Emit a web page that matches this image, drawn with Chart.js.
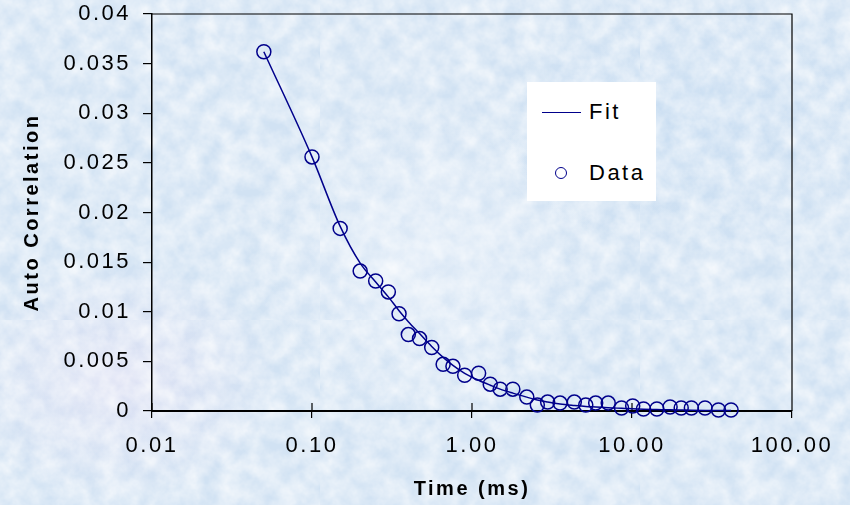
<!DOCTYPE html>
<html lang="en">
<head>
<meta charset="UTF-8">
<title>Auto Correlation vs Time</title>
<style>
  html, body { margin: 0; padding: 0; }
  body {
    width: 850px;
    height: 505px;
    overflow: hidden;
    position: relative;
    font-family: "Liberation Sans", Arial, sans-serif;
    background-color: #d1e2f3;
    background-image:
      url("data:image/svg+xml,%3Csvg xmlns='http://www.w3.org/2000/svg' width='320' height='320'%3E%3Cfilter id='n'%3E%3CfeTurbulence type='fractalNoise' baseFrequency='0.05' numOctaves='4' seed='7'/%3E%3CfeColorMatrix values='0 0 0 0 1  0 0 0 0 1  0 0 0 0 1  1.1 0 0 0 -0.25'/%3E%3C/filter%3E%3Crect width='320' height='320' filter='url(%23n)'/%3E%3C/svg%3E"),
      radial-gradient(ellipse 160px 120px at 120px 380px, rgba(235, 225, 245, 0.5), rgba(235, 225, 245, 0)),
      radial-gradient(ellipse 200px 140px at 700px 120px, rgba(190, 215, 240, 0.4), rgba(190, 215, 240, 0)),
      radial-gradient(ellipse 180px 160px at 420px 260px, rgba(240, 245, 252, 0.45), rgba(240, 245, 252, 0));
  }
  #chart { position: absolute; left: 0; top: 0; }

  /* legend box, white, no border */
  .legend {
    position: absolute;
    left: 527px; top: 82px;
    width: 129px; height: 119px;
    background: #fff;
  }
  .legend .line {
    position: absolute; left: 15px; top: 30px;
    width: 39px; height: 0;
    border-top: 1.5px solid #00008b;
  }
  .legend .dot {
    position: absolute; left: 28px; top: 85px;
    width: 10px; height: 10px;
    border: 1.5px solid #00008b; border-radius: 50%;
  }
  .legend .label {
    position: absolute; left: 62px;
    font-size: 22px; line-height: 24px;
    letter-spacing: 2.5px; color: #000;
  }
</style>
</head>
<body>
  <canvas id="chart" width="850" height="505"></canvas>
  <div class="legend">
    <span class="line"></span><span class="label" style="top:18px">Fit</span>
    <span class="dot"></span><span class="label" style="top:79px">Data</span>
  </div>

  <script src="https://cdn.jsdelivr.net/npm/chart.js"></script>
  <script>
    // time lags (ms) of the measured points
    const times = [0.05, 0.1, 0.15, 0.2, 0.25, 0.3, 0.35, 0.4, 0.47, 0.56, 0.66, 0.76, 0.9,
      1.1, 1.3, 1.5, 1.8, 2.2, 2.56, 2.97, 3.55, 4.36, 5.14, 5.93, 7.1, 8.6,
      10.1, 11.8, 14.3, 17.3, 20.3, 23.5, 28.6, 34.7, 41.6];
    // measured auto correlation
    const autoCorr = [0.0362, 0.0256, 0.0184, 0.0141, 0.0131, 0.0120, 0.0098, 0.0077, 0.0073, 0.0064, 0.0047, 0.0045, 0.0036,
      0.0038, 0.0027, 0.0022, 0.0022, 0.0014, 0.0006, 0.0009, 0.0008, 0.0009, 0.0006, 0.0008, 0.0008, 0.0003,
      0.0005, 0.0002, 0.0002, 0.0004, 0.0003, 0.0003, 0.0003, 0.0001, 0.0001];
    // fitted curve at the same lags
    const fitValues = [0.0362, 0.0256, 0.0186, 0.0149, 0.0130, 0.0115, 0.0101, 0.0090, 0.0078, 0.0065, 0.0054, 0.0046, 0.0038,
      0.0031, 0.0026, 0.0022, 0.0018, 0.0014, 0.0011, 0.0009, 0.0007, 0.00055, 0.00045, 0.0004, 0.00033, 0.00027,
      0.00022, 0.00018, 0.00015, 0.00012, 0.0001, 0.00008, 0.00006, 0.00005, 0.00004];
    const xTicks = [0.01, 0.1, 1, 10, 100];
    const yTicks = [0, 0.005, 0.01, 0.015, 0.02, 0.025, 0.03, 0.035, 0.04];

    const navy = '#00008b';
    const fontFamily = "'Liberation Sans', Arial, sans-serif";
    Chart.defaults.font.family = fontFamily;
    Chart.defaults.color = '#000';

    // the original lettering is wide, so space the glyphs out a little
    const textSpacing = {
      id: 'textSpacing',
      beforeUpdate(chart) { chart.ctx.letterSpacing = '2.5px'; },
      beforeDraw(chart) { chart.ctx.letterSpacing = '2.5px'; }
    };

    // thin top/right frame and the inner half of the x ticks
    const frame = {
      id: 'frame',
      beforeDatasetsDraw(chart) {
        const { ctx, chartArea: { left, top, right, bottom } } = chart;
        const xs = chart.scales.x;
        ctx.save();
        ctx.strokeStyle = '#000';
        ctx.lineWidth = 1.2;
        ctx.beginPath();
        ctx.moveTo(left, top);
        ctx.lineTo(right, top);
        ctx.lineTo(right, bottom);
        xs.ticks.forEach(t => {
          const px = xs.getPixelForValue(t.value);
          ctx.moveTo(px, bottom);
          ctx.lineTo(px, bottom - 8);
        });
        ctx.stroke();
        ctx.restore();
      }
    };

    new Chart(document.getElementById('chart').getContext('2d'), {
      type: 'scatter',
      data: {
        datasets: [
          {
            label: 'Data',
            data: times.map((t, i) => ({ x: t, y: autoCorr[i] })),
            showLine: false,
            pointStyle: 'circle',
            pointRadius: 7,
            pointBorderWidth: 1.5,
            pointBorderColor: navy,
            pointBackgroundColor: 'rgba(0,0,0,0)',
            clip: false
          },
          {
            label: 'Fit',
            data: times.map((t, i) => ({ x: t, y: fitValues[i] })),
            showLine: true,
            borderColor: navy,
            borderWidth: 1.5,
            pointRadius: 0,
            cubicInterpolationMode: 'monotone',
            clip: false
          }
        ]
      },
      options: {
        responsive: false,
        animation: false,
        devicePixelRatio: 1,
        layout: { padding: { top: 14, right: 58, left: 0, bottom: 0 } },
        plugins: { legend: { display: false }, tooltip: { enabled: false } },
        scales: {
          x: {
            type: 'logarithmic',
            min: 0.01, max: 100,
            afterBuildTicks: s => { s.ticks = xTicks.map(v => ({ value: v })); },
            afterFit: s => { s.height = 94; s.paddingLeft = 0; s.paddingRight = 0; },
            ticks: {
              color: '#000', font: { size: 22 }, padding: 15,
              maxRotation: 0, autoSkip: false,
              callback: v => Number(v).toFixed(2)
            },
            grid: { drawOnChartArea: false, tickLength: 7, color: '#000', lineWidth: 1.2 },
            border: { color: '#000', width: 2 },
            title: {
              display: true, text: 'Time (ms)', color: '#000',
              font: { size: 20, weight: 'bold' }, padding: { bottom: 4, top: 0 }
            }
          },
          y: {
            type: 'linear',
            min: 0, max: 0.04,
            afterBuildTicks: s => { s.ticks = yTicks.map(v => ({ value: v })); },
            afterFit: s => { s.width = 152; s.paddingTop = 0; s.paddingBottom = 0; },
            ticks: { color: '#000', font: { size: 22 }, padding: 12, callback: v => String(v) },
            grid: { drawOnChartArea: false, tickLength: 9, color: '#000', lineWidth: 1.2 },
            border: { color: '#000', width: 1.5 },
            title: {
              display: true, text: 'Auto Correlation', color: '#000',
              font: { size: 20, weight: 'bold' }, padding: { top: 20, bottom: 0 }
            }
          }
        }
      },
      plugins: [textSpacing, frame]
    });
  </script>
</body>
</html>
